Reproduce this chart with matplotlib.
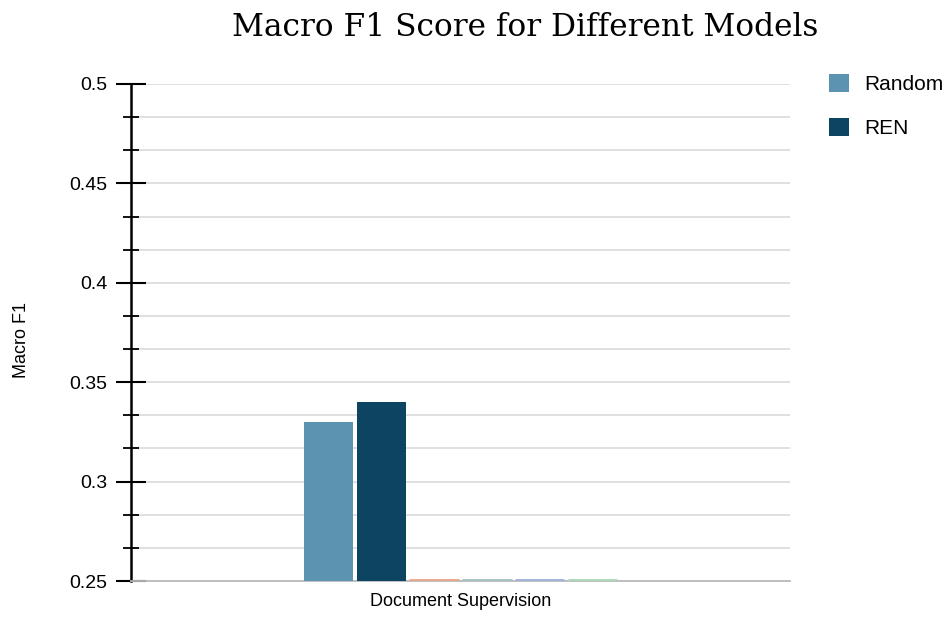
import matplotlib.pyplot as plt
import numpy as np

plt.rcParams['font.family'] = ['Liberation Sans', 'DejaVu Sans']

categories = ['Document Supervision']
series_names = ['Random', 'REN', '_s3', '_s4', '_s5', '_s6']
series_values = [0.33, 0.34, 0.25, 0.25, 0.25, 0.25]
series_colors = ['#5b93b0', '#0d4461', '#e8a48a', '#a3bfc2', '#9fb0da', '#a9d6b5']
y_ticks = [0.25, 0.3, 0.35, 0.4, 0.45, 0.5]
y_tick_labels = ['0.25', '0.3', '0.35', '0.4', '0.45', '0.5']

fig = plt.figure(figsize=(9.5, 6.18), dpi=100)
ax = fig.add_axes([131 / 950, 37 / 618, 659 / 950, 497 / 618])

base = 0.25
bar_w = 0.0744
step = 0.0804
x = np.arange(len(categories))
n = len(series_names)
for i, (name, val, col) in enumerate(zip(series_names, series_values, series_colors)):
    pos = x + (i - (n - 1) / 2) * step
    if val > base:
        ax.bar(pos, val - base, bottom=base, width=bar_w, color=col, label=name, zorder=3)
    else:
        # zero-height series show up as a thin coloured line on the baseline
        ax.hlines(base + 0.0006, pos - bar_w / 2, pos + bar_w / 2, color=col, lw=2, zorder=4)

ax.set_xlim(-0.5, 0.5)
ax.set_ylim(0.25, 0.5)
ax.set_xticks(x)
ax.set_xticklabels(categories, fontsize=13)
ax.tick_params(axis='x', length=0, pad=9)

ax.set_yticks(y_ticks)
ax.set_yticklabels(y_tick_labels, fontsize=14)
minor = [0.25 + k * 0.05 / 3 for k in range(16) if k % 3 != 0]
ax.set_yticks(minor, minor=True)
ax.tick_params(axis='y', which='major', direction='inout', length=22, width=1.5, pad=6)
ax.tick_params(axis='y', which='minor', direction='inout', length=11, width=1.3)

ax.grid(axis='y', which='both', color='#dddddd', lw=1.3, zorder=0)
for s in ['top', 'right']:
    ax.spines[s].set_visible(False)
ax.spines['left'].set_linewidth(1.8)
ax.spines['bottom'].set_color('#bbbbbb')
ax.spines['bottom'].set_linewidth(1.3)

fig.text(22 / 950, 1 - 340 / 618, 'Macro F1', fontsize=13, rotation=90,
         ha='center', va='center')

fig.text(525 / 950, 1 - 28 / 618, 'Macro F1 Score for Different Models',
         fontsize=22.5, family='DejaVu Serif', ha='center', va='center')

leg = ax.legend(loc='upper left', bbox_to_anchor=(829 / 950, 1 - 74 / 618),
                bbox_transform=fig.transFigure, frameon=False, borderaxespad=0,
                borderpad=0, fontsize=15, handlelength=0.95, handleheight=0.95,
                labelspacing=1.15, handletextpad=0.75)

plt.savefig('out.png', dpi=100)
